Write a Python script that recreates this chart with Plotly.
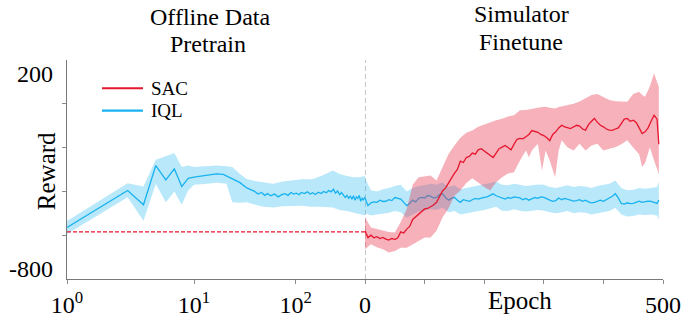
import plotly.graph_objects as go

# ---------------- data ----------------
# Pretrain (offline data) phase, IQL only, x = pretrain step (log axis)
pre_steps = [1, 3, 4, 5, 6, 7, 8, 9, 10, 11, 12, 13, 15, 17, 20, 23, 26, 30, 32, 34, 36, 38, 40,
             43, 46, 49, 52, 55, 58, 61, 64, 67, 70, 74, 78, 82, 86, 90, 95, 100, 105, 110, 115,
             120, 125, 130, 135, 140, 145, 150, 155, 160, 165, 170, 175, 180, 185, 190, 195, 200,
             205, 210, 215, 222]
pre_iql = [-565, -396, -461, -282, -347, -297, -378, -340, -335, -332, -328, -325, -320, -322, -343,
           -360, -384, -400, -412, -405, -418, -410, -420, -412, -425, -415, -410, -418, -405, -412,
           -408, -415, -405, -410, -402, -412, -406, -414, -404, -410, -400, -406, -396, -402, -390,
           -408, -398, -415, -405, -420, -428, -418, -432, -422, -436, -420, -440, -425, -432, -418,
           -445, -430, -440, -425]
pre_band_steps = [1, 3, 4, 5, 6, 7, 8, 9, 10, 12, 15, 18, 20, 23, 26, 30, 35, 42, 50, 60, 70, 85,
                  100, 124, 140, 160, 180, 200, 222]
pre_iql_upper = [-535, -363, -378, -255, -240, -225, -289, -282, -289, -285, -282, -285, -289, -320,
                 -343, -352, -358, -365, -355, -350, -345, -345, -330, -305, -320, -330, -335, -335, -330]
pre_iql_lower = [-595, -427, -534, -366, -450, -400, -461, -396, -370, -366, -360, -365, -450, -452,
                 -450, -460, -470, -473, -468, -465, -465, -470, -470, -473, -485, -490, -495, -503, -510]
sac_init_level = -585

# Finetune (simulator) phase, x = epoch
ft_epochs = [0, 5, 10, 15, 20, 25, 30, 35, 40, 45, 50, 55, 60, 65, 70, 75, 80, 85, 90, 95, 100,
             105, 110, 115, 120, 125, 130, 135, 140, 145, 150, 155, 160, 165, 170, 175, 180, 185,
             190, 195, 200, 205, 210, 215, 220, 225, 230, 235, 240, 245, 250, 255, 260, 265, 270,
             275, 280, 285, 290, 295, 300, 305, 310, 315, 320, 325, 330, 335, 340, 345, 350, 355,
             360, 365, 370, 375, 380, 385, 390, 395, 400, 405, 410, 415, 420, 425, 430, 435, 440,
             445, 450, 455, 460, 465, 470, 475, 480, 485, 490, 493]
sac_mean = [-580, -611, -600, -612, -607, -615, -610, -618, -622, -615, -620, -612, -585, -590, -572,
            -560, -528, -515, -503, -492, -480, -478, -470, -462, -450, -425, -398, -385, -362, -345,
            -318, -300, -262, -268, -245, -240, -225, -230, -210, -205, -215, -222, -235, -245, -225,
            -205, -198, -190, -200, -210, -185, -162, -158, -160, -150, -140, -122, -125, -130, -140,
            -145, -155, -168, -140, -128, -110, -98, -105, -110, -113, -105, -98, -102, -115, -120,
            -95, -80, -67, -85, -98, -105, -115, -120, -121, -115, -110, -90, -70, -67, -80, -75,
            -85, -110, -136, -128, -110, -80, -52, -70, -185]
iql_mean = [-430, -465, -452, -448, -450, -440, -446, -445, -438, -442, -428, -432, -435, -450, -465,
            -455, -440, -448, -432, -427, -430, -419, -422, -430, -427, -415, -411, -428, -440, -432,
            -427, -440, -450, -438, -442, -445, -438, -432, -435, -430, -427, -425, -418, -411, -420,
            -424, -430, -435, -428, -432, -425, -427, -430, -438, -432, -440, -435, -428, -432, -425,
            -427, -435, -440, -445, -442, -430, -438, -432, -435, -440, -444, -442, -438, -445, -440,
            -448, -452, -450, -445, -440, -445, -438, -432, -422, -411, -430, -455, -458, -452, -456,
            -455, -450, -445, -450, -448, -444, -446, -450, -455, -440]

sac_band_epochs = [0, 10, 20, 30, 40, 50, 60, 70, 80, 90, 100, 110, 120, 130, 140, 150, 160, 170,
                   180, 190, 200, 210, 220, 230, 240, 250, 260, 270, 275, 280, 290, 297, 303, 310,
                   319, 325, 330, 340, 350, 360, 370, 380, 390, 400, 410, 420, 430, 440, 450, 460,
                   465, 470, 478, 485, 490, 493]
sac_upper = [-519, -565, -572, -580, -585, -588, -540, -480, -370, -335, -330, -327, -350, -290,
             -230, -190, -155, -132, -122, -105, -95, -83, -75, -68, -58, -52, -30, -28, -25, -21,
             -18, -15, -14, -18, -21, -15, -12, -6, 0, 10, 24, 40, 45, 30, 17, 12, 10, 9, 45, 55,
             40, 32, 80, 139, 100, 78]
sac_lower = [-664, -641, -655, -664, -679, -672, -657, -657, -641, -626, -611, -611, -580, -519,
             -478, -420, -396, -362, -340, -360, -380, -396, -358, -335, -318, -312, -259, -213,
             -244, -213, -182, -305, -213, -259, -335, -213, -167, -200, -213, -182, -213, -190,
             -182, -213, -205, -198, -185, -167, -200, -230, -289, -270, -198, -259, -300, -320]

iql_band_epochs = [0, 10, 20, 30, 40, 50, 60, 70, 80, 90, 100, 110, 120, 130, 140, 150, 160, 170,
                   180, 190, 200, 210, 220, 230, 240, 250, 260, 270, 280, 290, 300, 310, 320, 330,
                   340, 350, 360, 370, 380, 390, 400, 410, 420, 430, 440, 450, 460, 470, 480, 490, 493]
iql_upper = [-340, -395, -400, -390, -385, -375, -370, -400, -385, -375, -372, -365, -370, -358, -380,
             -372, -390, -385, -380, -375, -370, -362, -355, -370, -372, -365, -370, -375, -372, -368,
             -370, -380, -385, -378, -372, -380, -375, -378, -385, -375, -370, -365, -350, -385, -395,
             -392, -385, -388, -385, -380, -355]
iql_lower = [-500, -510, -505, -500, -498, -490, -495, -520, -505, -492, -490, -480, -485, -475, -495,
             -490, -505, -500, -495, -490, -485, -478, -470, -488, -490, -482, -488, -492, -490, -485,
             -488, -495, -500, -495, -490, -500, -495, -498, -505, -500, -495, -490, -475, -505, -515,
             -512, -505, -508, -505, -510, -530]

y_range = [-800, 200]
x2_range = [0, 500]
x_ticks_pre = [1, 10, 63.1]
x_tick_text_pre = ["10<sup>0</sup>", "10<sup>1</sup>", "10<sup>2</sup>"]
x_ticks_ft = [0, 500]
x_minor_ft = [100, 200, 300, 400]
y_ticks = [-600, -400, -200, 0]
series_names = ["SAC", "IQL"]

# ---------------- style ----------------
RED = "rgb(230,22,45)"
RED_FILL = "rgba(232,60,85,0.40)"
BLUE = "rgb(25,178,240)"
BLUE_FILL = "rgba(40,185,240,0.33)"
FONT = "Liberation Serif"

fig = go.Figure()


def band(x, lo, hi, fill, xaxis):
    fig.add_trace(go.Scatter(x=list(x) + list(x)[::-1], y=list(hi) + list(lo)[::-1],
                             fill="toself", fillcolor=fill, line=dict(width=0),
                             mode="lines", hoverinfo="skip", showlegend=False,
                             xaxis=xaxis, yaxis="y"))


# pretrain
band(pre_band_steps, pre_iql_lower, pre_iql_upper, BLUE_FILL, "x")
fig.add_trace(go.Scatter(x=pre_steps, y=pre_iql, mode="lines", line=dict(color=BLUE, width=1.3),
                         showlegend=False, xaxis="x", yaxis="y"))
fig.add_trace(go.Scatter(x=[pre_steps[0], pre_steps[-1]], y=[sac_init_level, sac_init_level],
                         mode="lines", line=dict(color=RED, width=1.2, dash="4px,2px"),
                         showlegend=False, xaxis="x", yaxis="y"))

# finetune
band(iql_band_epochs, iql_lower, iql_upper, BLUE_FILL, "x2")
fig.add_trace(go.Scatter(x=ft_epochs, y=iql_mean, mode="lines", line=dict(color=BLUE, width=1.3),
                         showlegend=False, xaxis="x2", yaxis="y"))
band(sac_band_epochs, sac_lower, sac_upper, RED_FILL, "x2")
fig.add_trace(go.Scatter(x=ft_epochs, y=sac_mean, mode="lines", line=dict(color=RED, width=1.3),
                         showlegend=False, xaxis="x2", yaxis="y"))

# vertical dashed separator at epoch 0
fig.add_shape(type="line", xref="x2", yref="paper", x0=0, x1=0, y0=0, y1=1,
              line=dict(color="rgb(170,170,170)", width=1.3, dash="5px,3px"), layer="below")

# legend (drawn as key lines + labels)
for name, color, ly in zip(series_names, [RED, BLUE], [0.871, 0.7685]):
    fig.add_shape(type="line", xref="paper", yref="paper", x0=0.0587, x1=0.1275, y0=ly, y1=ly,
                  line=dict(color=color, width=2.2))
    fig.add_annotation(xref="paper", yref="paper", x=0.137, y=ly, text=name, showarrow=False,
                       xanchor="left", yanchor="middle",
                       font=dict(family=FONT, size=19, color="black"))

axis_common = dict(showgrid=False, zeroline=False, linecolor="rgb(120,120,120)", linewidth=1,
                   ticks="outside", ticklen=4, tickcolor="rgb(140,140,140)", automargin=False,
                   tickfont=dict(family=FONT, size=24, color="black"))

fig.update_layout(
    width=699, height=320,
    margin=dict(l=67, r=36, t=60, b=41),
    paper_bgcolor="white", plot_bgcolor="white",
    font=dict(family=FONT, color="black"),
    xaxis=dict(type="log", domain=[0, 0.5], range=[0, 2.346], showline=True,
               tickvals=x_ticks_pre, ticktext=x_tick_text_pre, anchor="y", **axis_common),
    xaxis2=dict(domain=[0.5, 1], range=x2_range, showline=True,
                tickvals=x_ticks_ft, ticktext=[str(v) for v in x_ticks_ft], anchor="y",
                minor=dict(tickvals=x_minor_ft, ticks="outside", ticklen=4,
                           tickcolor="rgb(140,140,140)"),
                **axis_common),
    yaxis=dict(range=y_range, showline=True, tickvals=y_ticks, showticklabels=False,
               anchor="x", **axis_common),
    showlegend=False,
)

ann = dict(xref="paper", yref="paper", showarrow=False)
f24 = dict(family=FONT, size=24, color="black")
fig.add_annotation(x=-0.02, y=0.938, text="200", xanchor="right", yanchor="middle", font=f24, **ann)
fig.add_annotation(x=-0.02, y=0.0457, text="-800", xanchor="right", yanchor="middle", font=f24, **ann)
fig.add_annotation(x=-0.035, y=0.493, text="Reward", textangle=-90, xanchor="center",
                   yanchor="middle", font=dict(family=FONT, size=25, color="black"), **ann)
fig.add_annotation(x=0.760, y=-0.096, text="Epoch", xanchor="center", yanchor="middle",
                   font=dict(family=FONT, size=25, color="black"), **ann)
f_title = dict(family=FONT, size=24, color="black")
fig.add_annotation(x=0.240, y=1.1986, text="Offline Data", xanchor="center", yanchor="middle",
                   font=f_title, **ann)
fig.add_annotation(x=0.237, y=1.0753, text="Pretrain", xanchor="center", yanchor="middle",
                   font=f_title, **ann)
fig.add_annotation(x=0.762, y=1.2091, text="Simulator", xanchor="center", yanchor="middle",
                   font=f_title, **ann)
fig.add_annotation(x=0.762, y=1.0813, text="Finetune", xanchor="center", yanchor="middle",
                   font=f_title, **ann)

# remove the browser's default 8px page margin so the figure fills the window
fig.write_html("out.html", config={"displayModeBar": False},
               post_script="document.body.style.margin='0';")
